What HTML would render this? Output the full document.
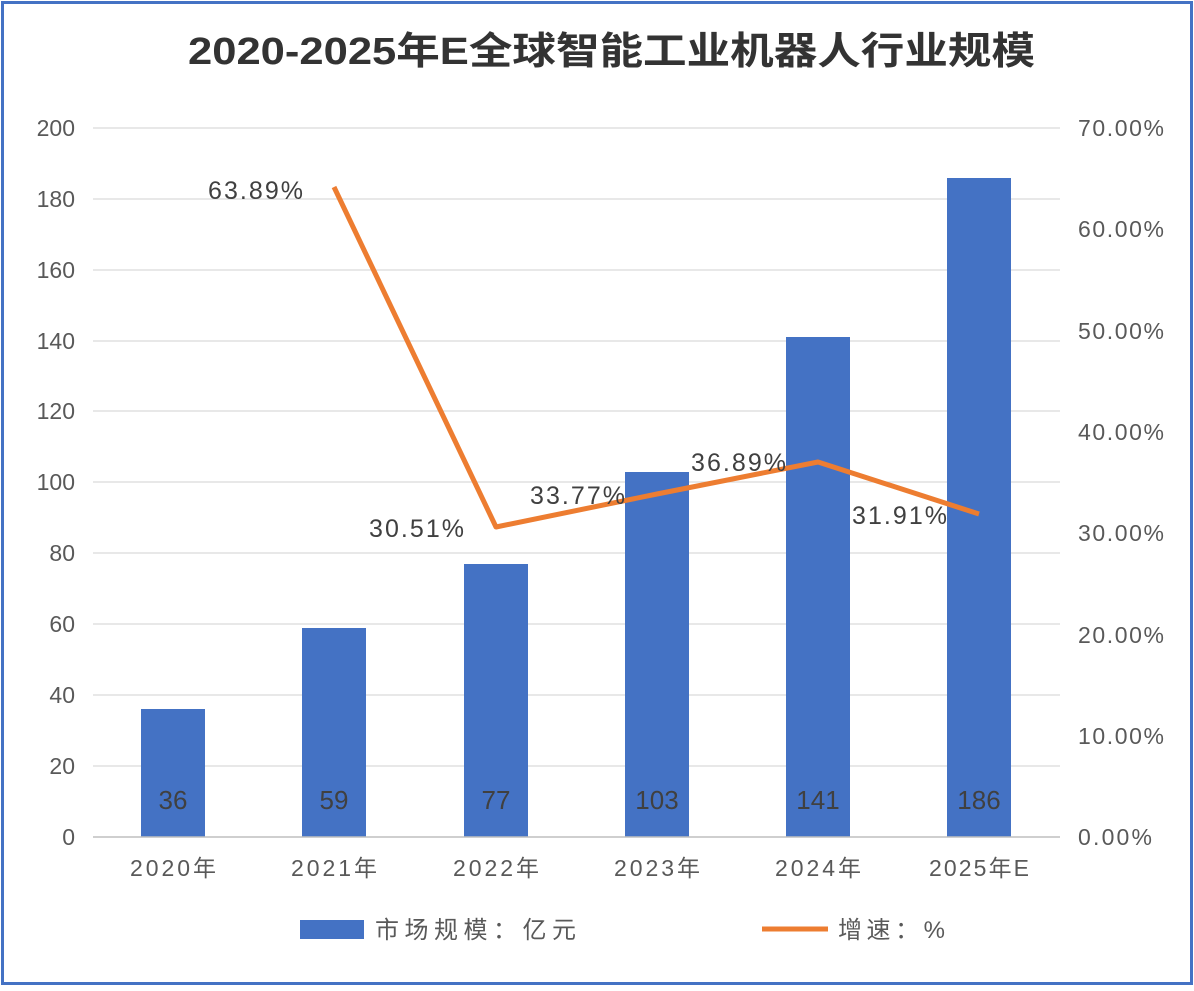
<!DOCTYPE html>
<html><head><meta charset="utf-8"><style>
body{margin:0;background:#fff;}
svg text{font-family:"Liberation Sans","Noto Sans CJK SC",sans-serif;}
</style></head><body>
<svg width="1194" height="986" viewBox="0 0 1194 986" xmlns="http://www.w3.org/2000/svg">
<rect x="0" y="0" width="1194" height="986" fill="#fff"/>
<rect x="2.5" y="2.5" width="1189" height="981" fill="none" stroke="#4472C4" stroke-width="3"/>
<text x="188" y="64" font-size="38" font-weight="bold" fill="#333" textLength="847" lengthAdjust="spacingAndGlyphs">2020-2025年E全球智能工业机器人行业规模</text>
<g stroke="#d9d9d9" stroke-width="1.3">
<line x1="93" x2="1060" y1="128" y2="128"/><line x1="93" x2="1060" y1="199" y2="199"/>
<line x1="93" x2="1060" y1="270" y2="270"/><line x1="93" x2="1060" y1="341" y2="341"/>
<line x1="93" x2="1060" y1="411" y2="411"/><line x1="93" x2="1060" y1="482" y2="482"/>
<line x1="93" x2="1060" y1="553" y2="553"/><line x1="93" x2="1060" y1="624" y2="624"/>
<line x1="93" x2="1060" y1="695" y2="695"/><line x1="93" x2="1060" y1="766" y2="766"/>
</g>
<g fill="#4472C4">
<rect x="141" y="709" width="64" height="128"/>
<rect x="302" y="628" width="64" height="209"/>
<rect x="464" y="564" width="64" height="273"/>
<rect x="625" y="472" width="64" height="365"/>
<rect x="786" y="337" width="64" height="500"/>
<rect x="947" y="178" width="64" height="659"/>
</g>
<line x1="93" x2="1060" y1="837" y2="837" stroke="#bfbfbf" stroke-width="1.5"/>
<g font-size="23" fill="#595959" text-anchor="end">
<text x="75" y="136">200</text><text x="75" y="207">180</text><text x="75" y="278">160</text>
<text x="75" y="349">140</text><text x="75" y="419">120</text><text x="75" y="490">100</text>
<text x="75" y="561">80</text><text x="75" y="632">60</text><text x="75" y="703">40</text>
<text x="75" y="774">20</text><text x="75" y="845">0</text>
</g>
<g font-size="23" fill="#595959">
<text x="1078" y="136" textLength="86">70.00%</text><text x="1078" y="237" textLength="86">60.00%</text><text x="1078" y="339" textLength="86">50.00%</text>
<text x="1078" y="440" textLength="86">40.00%</text><text x="1078" y="541" textLength="86">30.00%</text><text x="1078" y="643" textLength="86">20.00%</text>
<text x="1078" y="744" textLength="86">10.00%</text><text x="1078" y="845" textLength="74">0.00%</text>
</g>
<g font-size="23" fill="#595959">
<text x="130" y="876" textLength="86">2020年</text><text x="291" y="876" textLength="86">2021年</text><text x="453" y="876" textLength="86">2022年</text>
<text x="614" y="876" textLength="86">2023年</text><text x="775" y="876" textLength="86">2024年</text><text x="929" y="876" textLength="100">2025年E</text>
</g>
<g font-size="26" fill="#404040" text-anchor="middle">
<text x="173" y="809">36</text><text x="334" y="809">59</text><text x="496" y="809">77</text>
<text x="657" y="809">103</text><text x="818" y="809">141</text><text x="979" y="809">186</text>
</g>
<polyline points="334,187 496,527 657,494 818,462 979,514" fill="none" stroke="#ED7D31" stroke-width="5" stroke-linejoin="round"/>
<g font-size="25" fill="#404040">
<text x="208" y="199" textLength="95">63.89%</text><text x="369" y="537" textLength="95">30.51%</text><text x="530" y="504" textLength="95">33.77%</text>
<text x="691" y="471" textLength="95">36.89%</text><text x="852" y="524" textLength="95">31.91%</text>
</g>
<rect x="300" y="920" width="64" height="19" fill="#4472C4"/>
<text x="375" y="938" font-size="24" fill="#595959" textLength="201">市场规模：亿元</text>
<line x1="762" x2="828" y1="929" y2="929" stroke="#ED7D31" stroke-width="5"/>
<text x="838" y="938" font-size="24" fill="#595959" textLength="107">增速：%</text>
</svg>
</body></html>
